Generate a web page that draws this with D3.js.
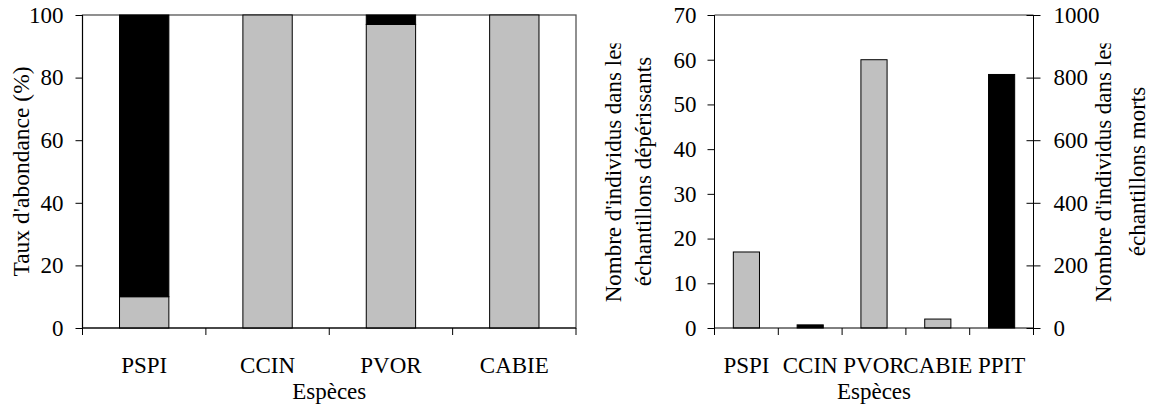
<!DOCTYPE html>
<html><head><meta charset="utf-8">
<script src="https://cdn.jsdelivr.net/npm/d3@7"></script>
<style>
html,body{margin:0;padding:0;background:#fff;}
svg{display:block;}
text{font-family:"Liberation Serif","Times New Roman",serif;fill:#000;}
</style></head>
<body>
<svg id="c" width="1152" height="411"></svg>
<script>
// ---- data ----
const leftCats = ["PSPI", "CCIN", "PVOR", "CABIE"];
const leftGray = [10, 100, 97, 100];
const leftBlack = [90, 0, 3, 0];
const leftTicks = [0, 20, 40, 60, 80, 100];

const rightCats = ["PSPI", "CCIN", "PVOR", "CABIE", "PPIT"];
const rightGray = [17, 0, 60, 2, 0];      // left axis (dépérissants)
const rightBlack = [0, 10, 0, 0, 810];     // right axis (morts)
const rightLeftTicks = [0, 10, 20, 30, 40, 50, 60, 70];
const rightRightTicks = [0, 200, 400, 600, 800, 1000];

const xTitle = "Espèces";
const leftYTitle = "Taux d'abondance (%)";
const rightYTitleL = ["Nombre d'individus dans les", "échantillons dépérissants"];
const rightYTitleR = ["Nombre d'individus dans les", "échantillons morts"];

// ---- drawing ----
const FS = 23;
const GRAY = "#c0c0c0";
const svg = d3.select("#c");

const pTop = 15, pBottom = 328;

function xAxisWithBoundaryTicks(g, x, n) {
  const ax = g.append("g").attr("transform", `translate(0,${pBottom})`)
    .call(d3.axisBottom(x).tickSize(0).tickPadding(28.5));
  ax.select(".domain").remove();
  ax.selectAll("text").attr("font-size", FS).attr("font-family", null);
  const [r0, r1] = x.range();
  g.append("line").attr("x1", r0).attr("x2", r1).attr("y1", pBottom).attr("y2", pBottom)
    .attr("stroke", "#000").attr("stroke-width", 1);
  g.selectAll(".bt").data(d3.range(n + 1)).enter().append("line")
    .attr("x1", i => r0 + i * x.step()).attr("x2", i => r0 + i * x.step())
    .attr("y1", pBottom).attr("y2", pBottom + 7)
    .attr("stroke", "#000").attr("stroke-width", 1);
}

// ---------- LEFT CHART ----------
{
  const L = 82.5, R = 576;
  const g = svg.append("g");
  const x = d3.scaleBand().domain(leftCats).range([L, R]).paddingInner(0).paddingOuter(0);
  const y = d3.scaleLinear().domain([0, 100]).range([pBottom, pTop]);
  const bw = x.bandwidth() * 0.4;

  g.append("rect").attr("x", L).attr("y", pTop).attr("width", R - L).attr("height", pBottom - pTop)
    .attr("fill", "none").attr("stroke", "#555").attr("stroke-width", 1.3);

  const rows = leftCats.map((c, i) => ({ c, g: leftGray[i], b: leftBlack[i] }));
  g.selectAll(".gb").data(rows).enter().append("rect")
    .attr("x", d => x(d.c) + (x.bandwidth() - bw) / 2).attr("width", bw)
    .attr("y", d => y(d.g)).attr("height", d => y(0) - y(d.g))
    .attr("fill", GRAY).attr("stroke", "#000").attr("stroke-width", 1);
  g.selectAll(".bb").data(rows.filter(d => d.b > 0)).enter().append("rect")
    .attr("x", d => x(d.c) + (x.bandwidth() - bw) / 2).attr("width", bw)
    .attr("y", d => y(d.g + d.b)).attr("height", d => y(d.g) - y(d.g + d.b))
    .attr("fill", "#000").attr("stroke", "#000").attr("stroke-width", 1);

  const ya = g.append("g").attr("transform", `translate(${L},0)`)
    .call(d3.axisLeft(y).tickValues(leftTicks).tickSize(7).tickSizeOuter(0).tickPadding(12));
  ya.selectAll("text").attr("font-size", FS).attr("font-family", null);
  ya.select(".domain").attr("d", `M0,${pTop}V${pBottom + 7}`);

  xAxisWithBoundaryTicks(g, x, leftCats.length);

  g.append("text").attr("x", (L + R) / 2).attr("y", 399).attr("text-anchor", "middle")
    .attr("font-size", FS).text(xTitle);
  g.append("text").attr("transform", `translate(29,${(pTop + pBottom) / 2}) rotate(-90)`)
    .attr("text-anchor", "middle").attr("font-size", 23.5).text(leftYTitle);
}

// ---------- RIGHT CHART ----------
{
  const L = 714.5, R = 1033.5;
  const g = svg.append("g");
  const x = d3.scaleBand().domain(rightCats).range([L, R]).paddingInner(0).paddingOuter(0);
  const yL = d3.scaleLinear().domain([0, 70]).range([pBottom, pTop]);
  const yR = d3.scaleLinear().domain([0, 1000]).range([pBottom, pTop]);
  const bw = x.bandwidth() * 0.41;

  g.append("line").attr("x1", L).attr("x2", R).attr("y1", pTop).attr("y2", pTop)
    .attr("stroke", "#333").attr("stroke-width", 1);

  const rowsG = rightCats.map((c, i) => ({ c, v: rightGray[i] })).filter(d => d.v > 0);
  const rowsB = rightCats.map((c, i) => ({ c, v: rightBlack[i] })).filter(d => d.v > 0);
  g.selectAll(".gb").data(rowsG).enter().append("rect")
    .attr("x", d => x(d.c) + (x.bandwidth() - bw) / 2).attr("width", bw)
    .attr("y", d => yL(d.v)).attr("height", d => yL(0) - yL(d.v))
    .attr("fill", GRAY).attr("stroke", "#000").attr("stroke-width", 1);
  g.selectAll(".bb").data(rowsB).enter().append("rect")
    .attr("x", d => x(d.c) + (x.bandwidth() - bw) / 2).attr("width", bw)
    .attr("y", d => yR(d.v)).attr("height", d => yR(0) - yR(d.v))
    .attr("fill", "#000").attr("stroke", "#000").attr("stroke-width", 1);

  const ya = g.append("g").attr("transform", `translate(${L},0)`)
    .call(d3.axisLeft(yL).tickValues(rightLeftTicks).tickSize(7).tickSizeOuter(0).tickPadding(11));
  ya.selectAll("text").attr("font-size", FS).attr("font-family", null);
  ya.select(".domain").attr("d", `M0,${pTop}V${pBottom + 7}`);

  const yb = g.append("g").attr("transform", `translate(${R},0)`)
    .call(d3.axisRight(yR).tickValues(rightRightTicks).tickFormat(d3.format("d"))
      .tickSize(7).tickSizeOuter(0).tickPadding(13));
  yb.selectAll("text").attr("font-size", FS).attr("font-family", null);
  yb.selectAll(".tick line").attr("x1", -7);
  yb.select(".domain").attr("d", `M0,${pTop}V${pBottom + 7}`);

  xAxisWithBoundaryTicks(g, x, rightCats.length);

  g.append("text").attr("x", (L + R) / 2).attr("y", 399).attr("text-anchor", "middle")
    .attr("font-size", FS).text(xTitle);

  svg.append("defs").append("clipPath").attr("id", "tclip")
    .append("rect").attr("x", 0).attr("y", 43.5).attr("width", 1152).attr("height", 400);
  const cy = (pTop + pBottom) / 2;
  const tg = g.append("g").attr("clip-path", "url(#tclip)");
  const lx = [621, 651], rx = [1111, 1145];
  rightYTitleL.forEach((t, i) => {
    tg.append("text").attr("transform", `translate(${lx[i]},${cy}) rotate(-90)`)
      .attr("text-anchor", "middle").attr("font-size", FS).text(t);
  });
  rightYTitleR.forEach((t, i) => {
    tg.append("text").attr("transform", `translate(${rx[i]},${cy}) rotate(-90)`)
      .attr("text-anchor", "middle").attr("font-size", FS).text(t);
  });
}
</script>
</body></html>
